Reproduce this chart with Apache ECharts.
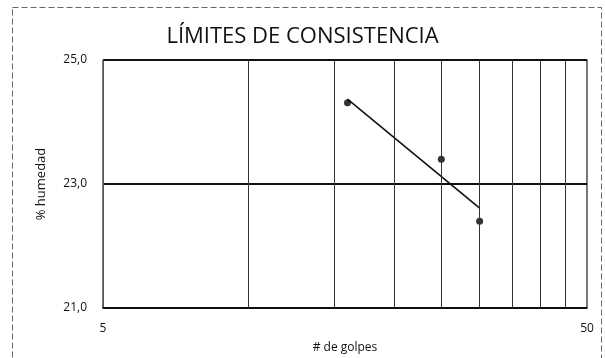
<!DOCTYPE html>
<html>
<head>
<meta charset="utf-8">
<script src="https://cdn.jsdelivr.net/npm/echarts@6/dist/echarts.min.js"></script>
<style>
  html, body { margin: 0; padding: 0; background: #fff; }
  #chart { width: 605px; height: 358px; }
</style>
</head>
<body>
<div id="chart"></div>
<script>
// ensayos de limite liquido: golpes vs humedad
const golpes = [16, 25, 30];
const humedad = [24.31, 23.40, 22.40];
// linea de tendencia
const trendGolpes = [16, 30];
const trendHumedad = [24.37, 22.61];
// lineas verticales de la escala logaritmica
const gridGolpes = [10, 15, 20, 25, 30, 35, 40, 45];
const xTickLabels = [5, 50];

const font = '"Open Sans", "Liberation Sans", sans-serif';

const chartDom = document.getElementById('chart');
const myChart = echarts.init(chartDom, null, { renderer: 'canvas' });

const option = {
  animation: false,
  backgroundColor: '#fff',
  title: {
    text: 'LÍMITES DE CONSISTENCIA',
    left: 'center',
    top: 21,
    textStyle: { fontFamily: font, fontSize: 22, fontWeight: 'normal', color: '#111' }
  },
  graphic: [{
    type: 'rect',
    left: 10, top: 5,
    shape: { width: 589, height: 360 },
    style: { fill: 'none', stroke: '#666', lineWidth: 1, lineDash: [6, 3] },
    silent: true
  }],
  grid: {
    left: 103, right: 18, top: 60, bottom: 50,
    outerBoundsMode: 'none',
    containLabel: false,
    show: true, borderColor: '#222', borderWidth: 1.2
  },
  xAxis: {
    type: 'log',
    logBase: 10,
    min: 5,
    max: 50,
    name: '# de golpes',
    nameLocation: 'middle',
    nameGap: 34,
    nameTextStyle: { fontFamily: font, fontSize: 12, color: '#111' },
    axisLine: { show: true, lineStyle: { color: '#111', width: 1.5 } },
    axisTick: { show: false },
    splitLine: { show: false },
    axisLabel: {
      margin: 15,
      fontFamily: font, fontSize: 12, color: '#111',
      showMinLabel: true, showMaxLabel: true,
      formatter: function (v) {
        const r = Math.round(v);
        return xTickLabels.indexOf(r) >= 0 ? String(r) : '';
      }
    }
  },
  yAxis: {
    type: 'value',
    min: 21,
    max: 25,
    interval: 2,
    name: '% humedad',
    nameLocation: 'middle',
    nameRotate: 90,
    nameGap: 55,
    nameTextStyle: { fontFamily: font, fontSize: 13, color: '#111' },
    axisLine: { show: true, lineStyle: { color: '#555', width: 1 } },
    axisTick: { show: false },
    splitLine: { show: true, lineStyle: { color: '#111', width: 1.8 } },
    axisLabel: {
      margin: 16,
      fontFamily: font, fontSize: 12, color: '#111',
      formatter: function (v) { return v.toFixed(1).replace('.', ','); }
    }
  },
  series: [
    {
      type: 'line',
      data: trendGolpes.map((g, i) => [g, trendHumedad[i]]),
      symbol: 'none',
      lineStyle: { color: '#111', width: 1.6 },
      silent: true,
      markLine: {
        silent: true,
        symbol: 'none',
        label: { show: false },
        lineStyle: { color: '#333', width: 1, type: 'solid' },
        data: gridGolpes.map(g => ({ xAxis: g }))
      },
      z: 3
    },
    {
      type: 'scatter',
      data: golpes.map((g, i) => [g, humedad[i]]),
      symbol: 'circle',
      symbolSize: 7,
      itemStyle: { color: '#000' },
      z: 4
    }
  ]
};

option && myChart.setOption(option);
</script>
</body>
</html>
